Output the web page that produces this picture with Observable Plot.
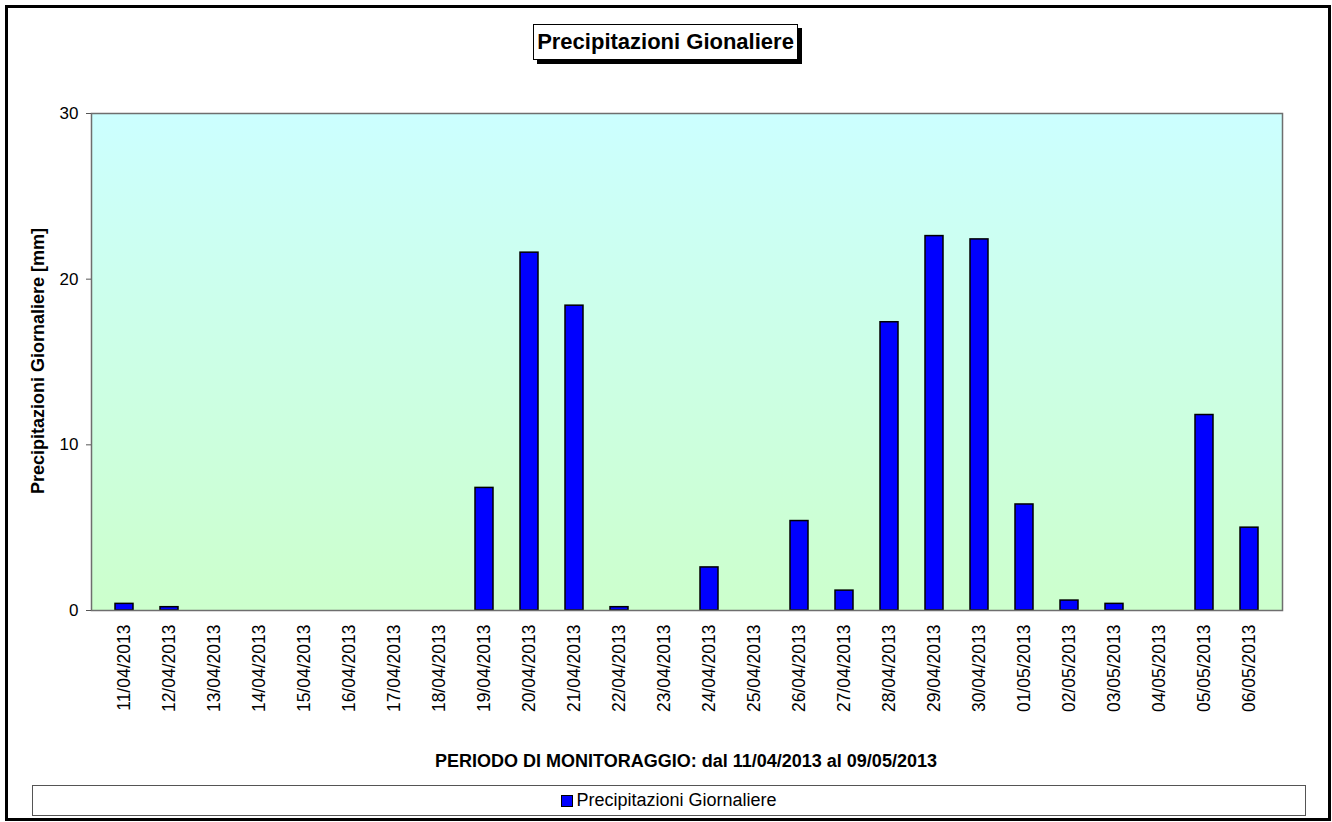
<!DOCTYPE html>
<html>
<head>
<meta charset="utf-8">
<script src="https://cdn.jsdelivr.net/npm/d3@7"></script>
<script src="https://cdn.jsdelivr.net/npm/@observablehq/plot@0.6"></script>
<style>
  html, body { margin: 0; padding: 0; background: #fff; }
  #wrap { position: relative; width: 1332px; height: 822px; overflow: hidden;
          font-family: "Liberation Sans", Arial, sans-serif; color: #000; }
  #chart { position: absolute; left: 0; top: 0; }
  #border { position: absolute; left: 5px; top: 5px; width: 1320px; height: 810px;
            border: 3px solid #000; pointer-events: none; }
  #title { position: absolute; left: 533px; top: 24px; width: 263px; height: 34px;
           border: 1px solid #000; background: #fff; box-shadow: 4px 4px 0 #000;
           font-weight: bold; font-size: 22px; line-height: 34px; text-align: center; white-space: nowrap; }
  #ylabel { position: absolute; left: 38px; top: 361px; transform: translate(-50%, -50%) rotate(-90deg);
            font-weight: bold; font-size: 18px; white-space: nowrap; }
  #xlabel { position: absolute; left: 686px; top: 761px; transform: translate(-50%, -50%);
            font-weight: bold; font-size: 18px; white-space: nowrap; }
  #legend { position: absolute; left: 32px; top: 785px; width: 1272px; height: 29px;
            border: 1px solid #555; background: #fff; display: flex; align-items: center; justify-content: center;
            font-size: 18px; white-space: nowrap; }
  #legend .sw { display: inline-block; width: 10px; height: 10px; background: #0000FF; border: 1px solid #000; margin-right: 3px; }
</style>
</head>
<body>
<div id="wrap">
  <div id="chart"></div>
  <div id="border"></div>
  <div id="title">Precipitazioni Gionaliere</div>
  <div id="ylabel">Precipitazioni Giornaliere [mm]</div>
  <div id="xlabel">PERIODO DI MONITORAGGIO: dal 11/04/2013 al 09/05/2013</div>
  <div id="legend"><span class="sw"></span><span>Precipitazioni Giornaliere</span></div>
</div>
<script>
const dates = ["11/04/2013","12/04/2013","13/04/2013","14/04/2013","15/04/2013","16/04/2013","17/04/2013",
  "18/04/2013","19/04/2013","20/04/2013","21/04/2013","22/04/2013","23/04/2013","24/04/2013","25/04/2013",
  "26/04/2013","27/04/2013","28/04/2013","29/04/2013","30/04/2013","01/05/2013","02/05/2013","03/05/2013",
  "04/05/2013","05/05/2013","06/05/2013"];
const precipitation = [0.4, 0.2, 0, 0, 0, 0, 0, 0, 7.4, 21.6, 18.4, 0.2, 0, 2.6, 0, 5.4, 1.2, 17.4, 22.6, 22.4,
  6.4, 0.6, 0.4, 0, 11.8, 5.0];
const yTicks = [0, 10, 20, 30];

const data = dates.map((d, i) => ({date: d, value: precipitation[i]}));

const gradientDefs = () => {
  const g = d3.create("svg:defs");
  const lg = g.append("linearGradient").attr("id", "bgGrad")
    .attr("x1", 0).attr("y1", 0).attr("x2", 0).attr("y2", 1);
  lg.append("stop").attr("offset", 0).attr("stop-color", "#CCFFFF");
  lg.append("stop").attr("offset", 1).attr("stop-color", "#CCFFCC");
  return g.node();
};

const chart = Plot.plot({
  width: 1332,
  height: 822,
  marginLeft: 91,
  marginRight: 50,
  marginTop: 113,
  marginBottom: 212,
  style: {fontFamily: "'Liberation Sans', Arial, sans-serif", background: "transparent", color: "#000"},
  x: {type: "band", domain: dates, paddingInner: 0.59, paddingOuter: 0.295, label: null},
  y: {domain: [0, 30], label: null},
  marks: [
    gradientDefs,
    Plot.frame({fill: "url(#bgGrad)"}),
    Plot.barY(data, {x: "date", y: "value", filter: d => d.value > 0, fill: "#0000FF", stroke: "#000", strokeWidth: 1.5}),
    Plot.frame({stroke: "#6e6e6e", strokeWidth: 1.5}),
    Plot.axisY({ticks: yTicks, tickSize: 5, tickPadding: 8, fontSize: 17, label: null, stroke: "#555"}),
    Plot.axisX({tickRotate: -90, tickSize: 0, tickPadding: 14, fontSize: 17.5, label: null})
  ]
});
document.getElementById("chart").appendChild(chart);
</script>
</body>
</html>
